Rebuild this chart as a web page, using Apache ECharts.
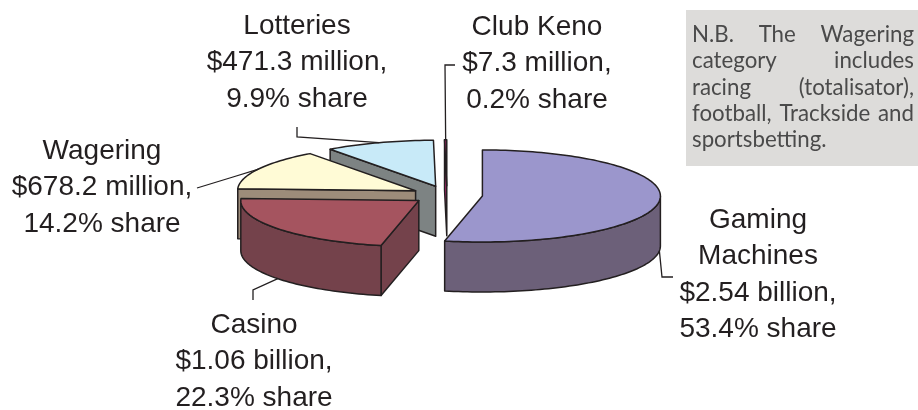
<!DOCTYPE html>
<html><head><meta charset="utf-8">
<script src="https://cdn.jsdelivr.net/npm/echarts@6/dist/echarts.min.js"></script>
<style>html,body{margin:0;padding:0;background:#fff}#c{width:918px;height:410px}</style>
</head><body><div id="c"></div>
<script>
// ---- data ----
const categories = ['Gaming Machines', 'Casino', 'Wagering', 'Lotteries', 'Club Keno'];
const labelNames = [['Gaming', 'Machines'], ['Casino'], ['Wagering'], ['Lotteries'], ['Club Keno']];
const amountsMillion = [2540, 1060, 678.2, 471.3, 7.3];
const sharePct = [53.4, 22.3, 14.2, 9.9, 0.2];
const noteLines = ['N.B. The Wagering', 'category includes', 'racing (totalisator),', 'football, Trackside and', 'sportsbetting.'];

// ---- styling / layout ----
const topColors  = ['#9B96CC', '#A5545F', '#FFFBD6', '#C8EAF8', '#9A1F62'];
const sideColors = ['#6C6079', '#74424B', '#9D8C7A', '#7D8383', '#7A1A50'];
const wallColors = ['#6C6079', '#74424B', '#9D8C7A', '#7D8383', '#B0246F'];
const GEO = { cx: 447, cy: 195, rx: 178, ry: 46, depth: 50, explode: 0.2 };
const labelAnchor = [[758, 220], [254, 325], [102, 151], [297, 26], [537, 27]];
const LINE_H = 36.5;
const leaderCfg = [
  { bottom: true,  pts: [[662, 277], [673, 277]] },
  { bottom: true,  pts: [[253, 290], [253, 300]] },
  { bottom: false, pts: [[233, 177], [197, 188]] },
  { bottom: false, pts: [[297, 137], [297, 127]] },
  { bottom: false, pts: [[445, 65], [455, 65]] }
];
const TEXT_COLOR = '#231f20';
const LABEL_FONT = '"Liberation Sans", Arial, sans-serif';

function fmtAmount(v) {
  return v >= 1000 ? '$' + (v / 1000).toFixed(2) + ' billion' : '$' + v + ' million';
}

const rad = d => d * Math.PI / 180;
const total = sharePct.reduce((a, b) => a + b, 0);
const slices = [];
let acc = 0;
sharePct.forEach((s) => {
  const a0 = acc / total * 360; acc += s; const a1 = acc / total * 360;
  const mid = (a0 + a1) / 2;
  const c = [GEO.cx + GEO.explode * GEO.rx * Math.sin(rad(mid)), GEO.cy - GEO.explode * GEO.ry * Math.cos(rad(mid))];
  slices.push({ a0, a1, mid, c });
});
const order = slices.map((s, i) => i).sort((a, b) => (-Math.cos(rad(slices[a].mid))) - (-Math.cos(rad(slices[b].mid))));
const rank = []; order.forEach((idx, r) => rank[idx] = r);

function rim(c, a, dy) { return [c[0] + GEO.rx * Math.sin(rad(a)), c[1] - GEO.ry * Math.cos(rad(a)) + (dy || 0)]; }
function arc(c, a0, a1, dy) {
  const n = Math.max(2, Math.ceil((a1 - a0) / 1.5) + 1); const pts = [];
  for (let k = 0; k < n; k++) pts.push(rim(c, a0 + (a1 - a0) * k / (n - 1), dy));
  return pts;
}

const stroke = { stroke: '#231f20', lineWidth: 1.5, lineJoin: 'round' };

function renderItem(params, api) {
  const i = params.dataIndex; const s = slices[i]; const z = rank[i] * 10; const D = GEO.depth;
  const ch = [];
  if (Math.sin(rad(s.a0)) < -1e-9) {
    const p = rim(s.c, s.a0);
    ch.push({ type: 'polygon', z2: z + 1, shape: { points: [s.c, p, [p[0], p[1] + D], [s.c[0], s.c[1] + D]] }, style: Object.assign({ fill: wallColors[i] }, stroke) });
  }
  if (Math.sin(rad(s.a1)) > 1e-9) {
    const p = rim(s.c, s.a1);
    ch.push({ type: 'polygon', z2: z + 1, shape: { points: [s.c, p, [p[0], p[1] + D], [s.c[0], s.c[1] + D]] }, style: Object.assign({ fill: wallColors[i] }, stroke) });
  }
  const b0 = Math.max(s.a0, 90), b1 = Math.min(s.a1, 270);
  if (b1 > b0) {
    const top = arc(s.c, b0, b1, 0); const bot = arc(s.c, b0, b1, D).reverse();
    ch.push({ type: 'polygon', z2: z + 2, shape: { points: top.concat(bot) }, style: Object.assign({ fill: sideColors[i] }, stroke) });
  }
  ch.push({ type: 'polygon', z2: z + 3, shape: { points: [s.c].concat(arc(s.c, s.a0, s.a1, 0)) }, style: Object.assign({ fill: topColors[i] }, stroke) });
  return { type: 'group', children: ch };
}

// ---- annotations ----
const graphics = [];
categories.forEach((name, i) => {
  const lines = labelNames[i].concat([fmtAmount(amountsMillion[i]) + ',', sharePct[i] + '% share']);
  lines.forEach((t, k) => {
    graphics.push({ type: 'text', x: labelAnchor[i][0], y: labelAnchor[i][1] + k * LINE_H, z: 10,
      style: { text: t, fill: TEXT_COLOR, fontSize: 28, fontFamily: LABEL_FONT, align: 'center', verticalAlign: 'middle' } });
  });
  const s = slices[i];
  const start = rim(s.c, s.mid, leaderCfg[i].bottom ? GEO.depth : 0);
  graphics.push({ type: 'polyline', z: 10, shape: { points: [start].concat(leaderCfg[i].pts) }, style: { stroke: '#231f20', lineWidth: 1.3, fill: null } });
});

// note box
const BOX = { x: 686, y: 10, w: 232, h: 156 };
graphics.push({ type: 'rect', z: 5, shape: { x: BOX.x, y: BOX.y, width: BOX.w, height: BOX.h }, style: { fill: '#DDDCDA' } });
const NOTE_FAMILY = 'Lato, "Open Sans", sans-serif';
const NL = 692, NR = 914;
const cv = document.createElement('canvas').getContext('2d');
cv.font = '24px ' + NOTE_FAMILY;
const fsA = 24 * 144 / cv.measureText('sportsbetting.').width;
const fsB = 24 * (NR - NL - 4) / cv.measureText('football, Trackside and').width;
const noteFs = Math.min(fsA, fsB);
cv.font = noteFs + 'px ' + NOTE_FAMILY;
noteLines.forEach((line, k) => {
  const y = 35 + k * 26.2;
  const words = line.split(' ');
  if (k === noteLines.length - 1 || words.length < 2) {
    graphics.push({ type: 'text', x: NL, y: y, z: 11, style: { text: line, fill: '#4a4a4a', fontSize: noteFs, fontFamily: NOTE_FAMILY, align: 'left', verticalAlign: 'middle' } });
  } else {
    const widths = words.map(w => cv.measureText(w).width);
    const gap = (NR - NL - widths.reduce((a, b) => a + b, 0)) / (words.length - 1);
    let x = NL;
    words.forEach((w, j) => {
      graphics.push({ type: 'text', x: x, y: y, z: 11, style: { text: w, fill: '#4a4a4a', fontSize: noteFs, fontFamily: NOTE_FAMILY, align: 'left', verticalAlign: 'middle' } });
      x += widths[j] + gap;
    });
  }
});

const chart = echarts.init(document.getElementById('c'), null, { renderer: 'canvas' });
chart.setOption({
  backgroundColor: '#ffffff',
  animation: false,
  graphic: graphics,
  series: [{
    type: 'custom',
    coordinateSystem: 'none',
    renderItem: renderItem,
    data: sharePct.map((v, i) => ({ name: categories[i], value: v }))
  }]
});
</script></body></html>
